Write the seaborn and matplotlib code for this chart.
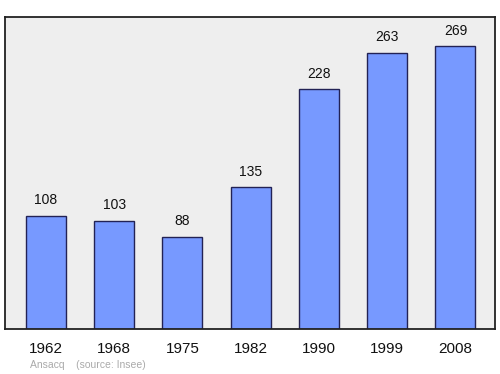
import matplotlib
matplotlib.use("Agg")
import matplotlib.pyplot as plt
import seaborn as sns
import pandas as pd

years = ["1962", "1968", "1975", "1982", "1990", "1999", "2008"]
population = [108, 103, 88, 135, 228, 263, 269]

sns.set_style("white")
plt.rcParams['font.family'] = ['Liberation Sans', 'DejaVu Sans']

df = pd.DataFrame({"year": years, "pop": population})

fig = plt.figure(figsize=(5, 3.74), dpi=100)
ax = fig.add_axes([0.01, 0.1203, 0.98, 0.8342])
ax.set_facecolor("#eeeeee")
sns.barplot(data=df, x="year", y="pop", ax=ax, color="#7799ff", saturation=1,
            width=0.585, edgecolor="#222255", linewidth=1)
ax.set_xlim(-0.6, 6.58)
ax.set_ylim(0, 297)
for i, v in enumerate(population):
    ax.annotate(str(v), (i, v), xytext=(0, 6), textcoords="offset points",
                ha="center", va="bottom", fontsize=10, color="#111111")
ax.set_xlabel("")
ax.set_ylabel("")
ax.set_yticks([])
ax.tick_params(axis="x", length=0, labelsize=11, pad=9, colors="#111111")
for s in ax.spines.values():
    s.set_color("#222222")
    s.set_linewidth(1.3)
fig.text(0.06, 0.012, "Ansacq    (source: Insee)", fontsize=7.5, color="#aaaaaa", ha="left", va="bottom")
fig.savefig("out.png", dpi=100)
